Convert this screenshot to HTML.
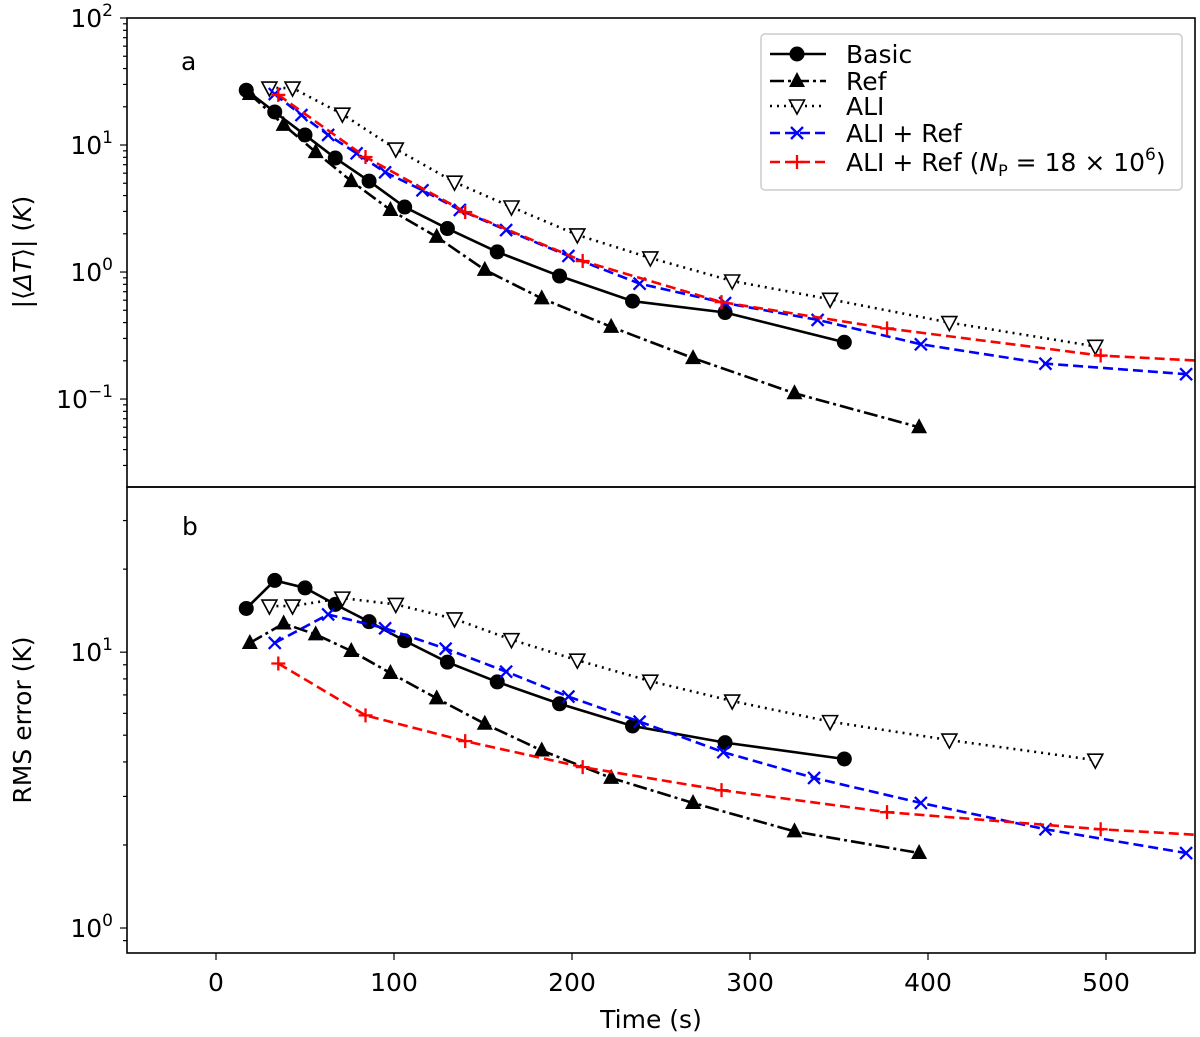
<!DOCTYPE html>
<html><head><meta charset="utf-8"><style>
body{margin:0;background:#fff}
svg{display:block;font-family:"DejaVu Sans","Liberation Sans",sans-serif}
</style></head><body>
<svg id="chart" width="1200" height="1037" viewBox="0 0 1200 1037" xmlns="http://www.w3.org/2000/svg"></svg>
<script>
// ---- data ----
const basicT=[17,33,50,67,86,106,130,158,193,234,286,353];
const basicA=[27,18.2,12,7.9,5.2,3.25,2.2,1.44,0.93,0.59,0.48,0.28];
const basicB=[14.4,18.2,17.1,14.9,12.9,11.0,9.2,7.8,6.5,5.4,4.7,4.1];
const refT=[19,38,56,76,98,124,151,183,222,268,325,395];
const refA=[25.2,14.4,8.8,5.2,3.08,1.89,1.04,0.62,0.37,0.21,0.111,0.060];
const refB=[10.8,12.7,11.6,10.1,8.4,6.8,5.5,4.4,3.5,2.84,2.24,1.87];
const aliT=[30,43,71,101,134,166,203,244,290,345,412,494];
const aliA=[28.1,28.1,17.5,9.3,5.1,3.25,1.96,1.29,0.85,0.61,0.40,0.26];
const aliB=[14.7,14.7,15.7,14.9,13.2,11.1,9.35,7.85,6.65,5.6,4.8,4.06];
const blueTA=[33,48,63,79,95,116,137,163,198,238,286,338,396,466,545];
const blueA=[25.2,17.2,12,8.6,6.1,4.4,3.08,2.14,1.34,0.81,0.57,0.42,0.27,0.19,0.157];
const blueTB=[33,63,95,129,163,198,238,285,336,396,466,545];
const blueB=[10.8,13.7,12.2,10.3,8.5,6.9,5.6,4.34,3.5,2.84,2.28,1.87];
const redT=[35,84,140,206,284,377,497,650];
const redA=[24.8,8.05,2.97,1.22,0.58,0.36,0.22,0.17];
const redB=[9.1,5.9,4.76,3.83,3.16,2.63,2.28,2.0];
const xTicks=[0,100,200,300,400,500];

const NS="http://www.w3.org/2000/svg";
const svg=document.getElementById('chart');
function el(t,a,p){const e=document.createElementNS(NS,t);for(const k in a)e.setAttribute(k,a[k]);(p||svg).appendChild(e);return e;}
const L=127,R=1195;
const xS=v=>L+(v+50)/600*(R-L);
const panels=[{top:18,bot:487,ylo:Math.log10(0.0203),yhi:2},{top:487,bot:953,ylo:-0.0906,yhi:Math.log10(39.7)}];
panels.forEach(p=>p.y=v=>p.bot-(Math.log10(v)-p.ylo)/(p.yhi-p.ylo)*(p.bot-p.top));
const defs=el('defs',{});
panels.forEach((p,i)=>{const c=el('clipPath',{id:'c'+i},defs);el('rect',{x:L,y:p.top,width:R-L,height:p.bot-p.top},c);});

function marker(g,type,x,y,col){
  let m;
  if(type==='o')m=el('circle',{cx:x,cy:y,r:7.5,fill:col},g);
  else if(type==='^')m=el('polygon',{points:`${x},${y-9} ${x+8},${y+6} ${x-8},${y+6}`,fill:col},g);
  else if(type==='v')m=el('polygon',{points:`${x-7.5},${y-6} ${x+7.5},${y-6} ${x},${y+8}`,fill:'#fff',stroke:col,'stroke-width':1.6},g);
  else if(type==='x')m=el('path',{d:`M${x-6},${y-6}L${x+6},${y+6}M${x-6},${y+6}L${x+6},${y-6}`,stroke:col,'stroke-width':2.3},g);
  else m=el('path',{d:`M${x-7},${y}L${x+7},${y}M${x},${y-7}L${x},${y+7}`,stroke:col,'stroke-width':2.3},g);
  
  
}
const styles={basic:{col:'#000',dash:'',m:'o'},ref:{col:'#000',dash:'14 4 3 4',m:'^'},ali:{col:'#000',dash:'2 5',m:'v'},blue:{col:'#0000ff',dash:'10 5',m:'x'},red:{col:'#ff0000',dash:'10 5',m:'+'}};
function series(pi,name,T,V){
  const p=panels[pi],s=styles[name];
  const g=el('g',{'clip-path':`url(#c${pi})`});
  
  
  const pts=T.map((t,i)=>xS(t)+','+p.y(V[i])).join(' ');
  el('polyline',{points:pts,fill:'none',stroke:s.col,'stroke-width':2.6,'stroke-dasharray':s.dash},g);
  T.forEach((t,i)=>marker(g,s.m,xS(t),p.y(V[i]),s.col));
}
series(0,'basic',basicT,basicA);series(0,'ref',refT,refA);series(0,'ali',aliT,aliA);series(0,'blue',blueTA,blueA);series(0,'red',redT,redA);
series(1,'basic',basicT,basicB);series(1,'ref',refT,refB);series(1,'ali',aliT,aliB);series(1,'blue',blueTB,blueB);series(1,'red',redT,redB);

// axes
panels.forEach((p,pi)=>{
  const f=el('rect',{x:L,y:p.top,width:R-L,height:p.bot-p.top,fill:'none',stroke:'#000','stroke-width':1.6});
  
  
  for(let d=Math.floor(p.ylo);d<=Math.ceil(p.yhi);d++){
    for(let k=1;k<10;k++){
      const v=k*Math.pow(10,d),lv=Math.log10(v);
      if(lv<p.ylo-1e-6||lv>p.yhi+1e-6)continue;
      const y=p.y(v);
      el('line',{x1:L,x2:L-(k===1?7:4),y1:y,y2:y,stroke:'#000','stroke-width':1.2});
      if(k===1){
        const t=el('text',{x:L-14,y:y+9,'font-size':25,'text-anchor':'end'});
        
        
        t.textContent='10';
        const s=el('tspan',{'font-size':17,dy:-11},t);s.textContent=d<0?'\u2212'+(-d):String(d);
      }
    }
  }
});
xTicks.forEach(v=>{
  const x=xS(v);
  el('line',{x1:x,x2:x,y1:953,y2:960,stroke:'#000','stroke-width':1.2});
  const t=el('text',{x:x,y:991,'font-size':25,'text-anchor':'middle'});
  
  
  t.textContent=v;
});
function txt(name,x,y,s,extra){const t=el('text',Object.assign({x:x,y:y,'font-size':25},extra||{}));t.textContent=s;return t;}
txt('x-axis-title',651,1028,'Time (s)',{'text-anchor':'middle'});
txt('panel-label-a',181,70,'a');
txt('panel-label-b',182,535,'b');
const ya=el('text',{transform:'translate(31,252) rotate(-90)','font-size':25,'text-anchor':'middle'});


ya.innerHTML='|\u27E8<tspan font-style="italic">\u0394T</tspan>\u27E9| (<tspan font-style="italic">K</tspan>)';
const yb=txt('y-axis-title-bottom',0,0,'RMS error (K)',{transform:'translate(31,720) rotate(-90)','text-anchor':'middle'});

// legend
const lg=el('g',{});


el('rect',{x:761,y:34,width:421,height:156,rx:4,fill:'#fff',stroke:'#ccc','stroke-width':1.5},lg);
const entries=[['basic','Basic',54],['ref','Ref',81],['ali','ALI',106],['blue','ALI + Ref',133],['red','',162]];
entries.forEach(([k,label,y])=>{
  const s=styles[k];
  const g=el('g',{},lg);
  
  
  el('line',{x1:770,x2:826,y1:y,y2:y,stroke:s.col,'stroke-width':2.6,'stroke-dasharray':s.dash},g);
  marker(g,s.m,797,y,s.col);
  const t=el('text',{x:846,y:y+9,'font-size':25},g);
  if(label)t.textContent=label;
  else t.innerHTML='ALI + Ref (<tspan font-style="italic">N</tspan><tspan font-size="16" dy="5">P</tspan><tspan dy="-5"> = 18 \u00D7 10</tspan><tspan font-size="17" dy="-11">6</tspan><tspan dy="11">)</tspan>';
});
</script>
</body></html>
